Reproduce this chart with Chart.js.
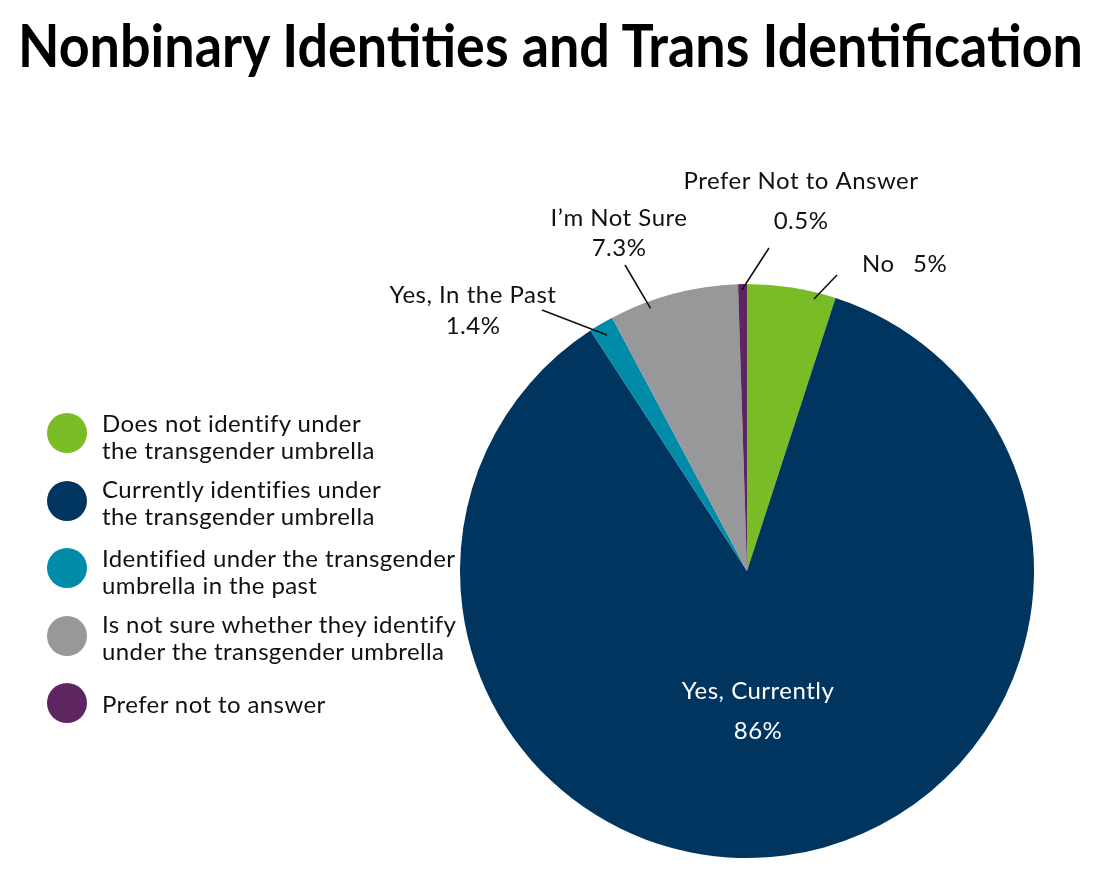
<!DOCTYPE html>
<html lang="en">
<head>
  <meta charset="UTF-8">
  <title>Nonbinary Identities and Trans Identification</title>
  <script src="https://cdn.jsdelivr.net/npm/chart.js"></script>
  <style>
    body { margin: 0; background: #fff; font-family: Lato, "Open Sans", sans-serif; color: #111; }
    #wrap { position: relative; width: 1100px; height: 882px; overflow: hidden; }
    #title { position: absolute; left: 18px; top: 15px; margin: 0; font-size: 59px; line-height: 60px; font-weight: 700; color: #000; white-space: nowrap; transform-origin: 0 0; }
    #chartBox { position: absolute; left: 0; top: 0; width: 1100px; height: 882px; }
    .key { position: absolute; left: 47px; width: 420px; }
    .dot { position: absolute; left: 0; width: 40px; height: 40px; border-radius: 50%; }
    .key span { position: absolute; left: 55px; font-size: 24px; line-height: 27px; letter-spacing: 0.4px; white-space: nowrap; }
  </style>
</head>
<body>
  <div id="wrap">
    <div id="chartBox"><canvas id="pie"></canvas></div>
    <h1 id="title">Nonbinary Identities and Trans Identification</h1>
    <div id="legend"></div>
  </div>

  <script>
    // data (clockwise from 12 o'clock)
    const labels = ["No", "Yes, Currently", "Yes, In the Past", "I\u2019m Not Sure", "Prefer Not to Answer"];
    const shares = [5, 86, 1.4, 7.3, 0.5];
    const shareText = ["5%", "86%", "1.4%", "7.3%", "0.5%"];
    const legendText = [
      ["Does not identify under", "the transgender umbrella"],
      ["Currently identifies under", "the transgender umbrella"],
      ["Identified under the transgender", "umbrella in the past"],
      ["Is not sure whether they identify", "under the transgender umbrella"],
      ["Prefer not to answer"]
    ];
    const colors = ["#7abc26", "#00355f", "#008ca8", "#97989a", "#5e2660"];

    // legend layout: circle centre y and first baseline y
    const legendDotY = [433, 501, 568, 636, 703];
    const legendBaseY = [432, 498, 567, 633, 713];

    const legend = document.getElementById("legend");
    legendText.forEach((lines, i) => {
      const item = document.createElement("div");
      item.className = "key";
      item.innerHTML =
        `<div class="dot" style="top:${legendDotY[i] - 20}px;background:${colors[i]}"></div>` +
        lines.map((t, j) => `<span style="top:${legendBaseY[i] - 23 + j * 27}px">${t}</span>`).join("");
      legend.appendChild(item);
    });

    // stretch the title to the original width
    const title = document.getElementById("title");
    const tw = title.getBoundingClientRect().width;
    title.style.transform = `scaleX(${1065 / tw})`;

    // callouts: text positions plus where the leader line touches the slice
    const callouts = [
      { i: 4, texts: [{ t: labels[4], x: 801, y: 189 }, { t: shareText[4], x: 801, y: 229 }], from: [769, 248], at: 0.43, r: 0.98 },
      { i: 0, texts: [{ t: labels[0], x: 862, y: 272, align: "left" }, { t: shareText[0], x: 913, y: 272, align: "left" }], from: [837, 275], at: 0.77, r: 0.976 },
      { i: 3, texts: [{ t: labels[3], x: 619, y: 226 }, { t: shareText[3], x: 619, y: 256 }], from: [625, 265], at: 0.30, r: 0.975 },
      { i: 2, texts: [{ t: labels[2], x: 473, y: 303 }, { t: shareText[2], x: 473, y: 334 }], from: [542, 310], at: 0.47, r: 0.956 },
      { i: 1, texts: [{ t: labels[1], x: 758, y: 699 }, { t: shareText[1], x: 758, y: 739 }], color: "#fff" }
    ];

    const calloutPlugin = {
      id: "callouts",
      afterDatasetsDraw(chart) {
        const ctx = chart.ctx;
        const meta = chart.getDatasetMeta(0);
        ctx.save();
        ctx.font = "24px Lato, 'Open Sans', sans-serif";
        ctx.letterSpacing = "0.5px";
        ctx.textBaseline = "alphabetic";
        callouts.forEach(c => {
          if (c.from) {
            const arc = meta.data[c.i];
            const p = arc.getProps(["x", "y", "startAngle", "endAngle", "outerRadius"], true);
            const a = p.startAngle + c.at * (p.endAngle - p.startAngle);
            ctx.strokeStyle = "#111";
            ctx.lineWidth = 1.6;
            ctx.beginPath();
            ctx.moveTo(c.from[0], c.from[1]);
            ctx.lineTo(p.x + Math.cos(a) * p.outerRadius * c.r, p.y + Math.sin(a) * p.outerRadius * c.r);
            ctx.stroke();
          }
          ctx.fillStyle = c.color || "#111";
          c.texts.forEach(s => {
            ctx.textAlign = s.align || "center";
            ctx.fillText(s.t, s.x, s.y);
          });
        });
        ctx.restore();
      }
    };

    new Chart(document.getElementById("pie"), {
      type: "pie",
      data: {
        labels: labels,
        datasets: [{
          data: shares,
          backgroundColor: colors,
          borderWidth: 0
        }]
      },
      options: {
        responsive: true,
        maintainAspectRatio: false,
        animation: false,
        events: [],
        layout: { padding: { left: 460, right: 66, top: 284, bottom: 24 } },
        plugins: {
          legend: { display: false },
          tooltip: { enabled: false }
        }
      },
      plugins: [calloutPlugin]
    });
  </script>
</body>
</html>
